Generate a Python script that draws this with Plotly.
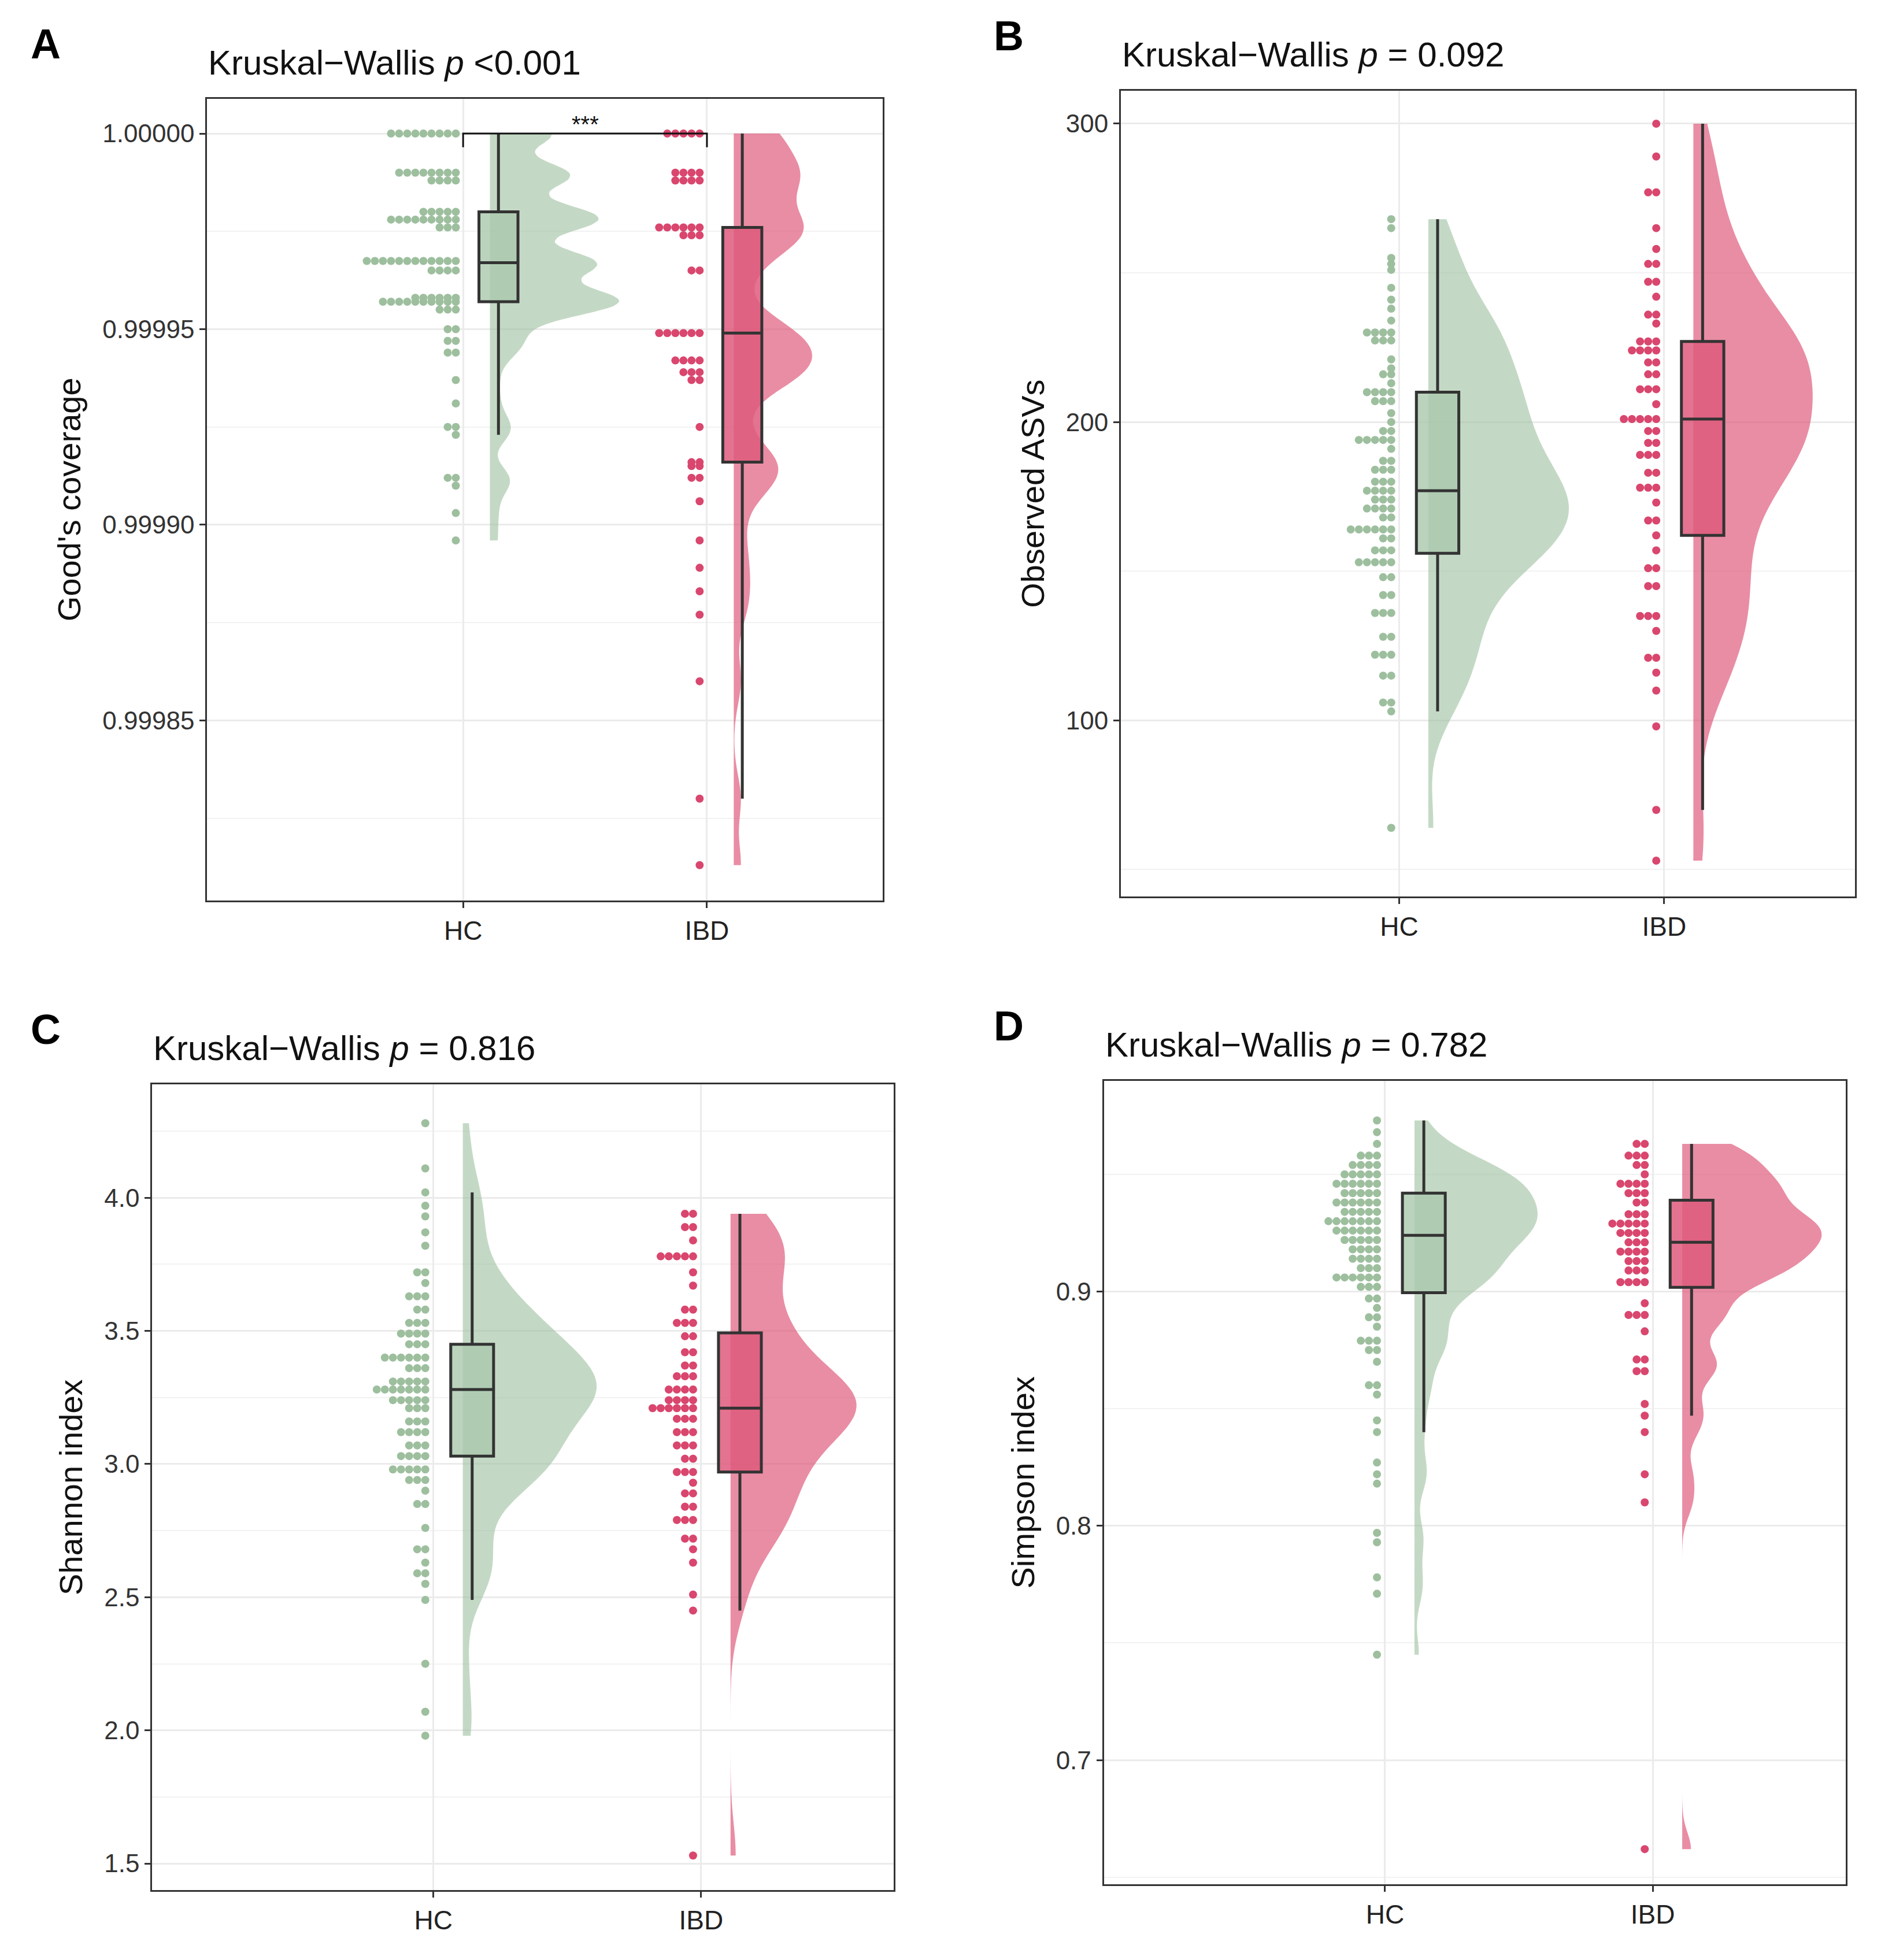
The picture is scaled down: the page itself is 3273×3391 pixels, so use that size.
import numpy as np
import plotly.graph_objects as go

def expand(pairs):
    out = []
    for v, c in pairs:
        out += [v] * c
    return out

# Panel A: Good's coverage (deficit in ppm -> value)
a_hc_def = [(0,9),(10,8),(12,4),(20,5),(22,9),(24,3),(32,5),(33,7),(35,4),(42,6),(43,10),(45,3),
            (50,2),(53,2),(56,2),(63,1),(69,1),(75,2),(77,1),(88,2),(90,1),(97,1),(104,1)]
a_ibd_def = [(0,5),(10,4),(12,4),(24,6),(26,3),(35,2),(51,6),(58,4),(61,3),(63,2),(75,1),(84,2),(85,2),
             (88,2),(94,1),(104,1),(111,1),(117,1),(123,1),(140,1),(170,1),(187,1)]
A_HC = [1 - d * 1e-6 for d in expand(a_hc_def)]
A_IBD = [1 - d * 1e-6 for d in expand(a_ibd_def)]

B_HC = expand([(268,1),(265,1),(255,1),(253,1),(251,1),(245,1),(241,1),(238,1),(234,1),(230,4),(228,2),(226,1),
               (221,1),(218,1),(216,2),(213,1),(210,4),(207,3),(203,1),(200,1),(197,2),(194,5),(191,1),(187,2),
               (184,3),(180,3),(177,4),(174,3),(171,4),(168,2),(164,6),(161,2),(157,3),(153,5),(148,2),(142,2),
               (136,3),(128,2),(122,3),(115,2),(106,2),(103,1),(64,1)])
B_IBD = expand([(300,1),(289,1),(277,2),(265,1),(258,1),(253,2),(247,2),(242,1),(236,2),(233,1),(227,3),(224,4),
                (220,2),(216,2),(211,3),(206,1),(201,5),(197,2),(193,2),(189,3),(183,2),(178,3),(173,1),(167,2),
                (162,1),(157,1),(151,2),(145,2),(135,3),(130,1),(121,2),(116,1),(110,1),(98,1),(70,1),(53,1)])

C_HC = expand([(4.28,1),(4.11,1),(4.02,1),(3.97,1),(3.93,1),(3.87,1),(3.82,1),(3.72,2),(3.68,1),(3.63,3),(3.58,2),
               (3.53,3),(3.49,4),(3.45,3),(3.40,6),(3.36,3),(3.31,5),(3.28,7),(3.24,5),(3.21,3),(3.16,3),(3.12,4),
               (3.07,3),(3.03,4),(2.98,5),(2.94,3),(2.90,1),(2.85,2),(2.76,1),(2.68,2),(2.63,1),(2.59,2),(2.55,1),
               (2.49,1),(2.25,1),(2.07,1),(1.98,1)])
C_IBD = expand([(3.94,2),(3.89,2),(3.84,1),(3.78,5),(3.72,1),(3.67,1),(3.58,2),(3.53,3),(3.48,2),(3.42,2),(3.37,2),
                (3.33,3),(3.28,4),(3.24,4),(3.21,6),(3.17,3),(3.12,3),(3.07,3),(3.02,2),(2.97,3),(2.93,1),(2.89,2),
                (2.84,2),(2.79,3),(2.72,2),(2.68,1),(2.63,1),(2.51,1),(2.45,1),(1.53,1)])

D_HC = expand([(0.973,1),(0.968,1),(0.963,1),(0.958,3),(0.954,4),(0.950,5),(0.946,6),(0.942,5),(0.938,6),(0.934,5),
               (0.930,7),(0.926,6),(0.922,5),(0.918,4),(0.914,4),(0.910,3),(0.906,6),(0.902,3),(0.897,2),(0.893,1),
               (0.889,2),(0.885,1),(0.879,3),(0.875,2),(0.870,1),(0.860,2),(0.856,1),(0.845,1),(0.840,1),(0.827,1),
               (0.822,1),(0.818,1),(0.797,1),(0.793,1),(0.778,1),(0.771,1),(0.745,1)])
D_IBD = expand([(0.963,2),(0.958,3),(0.954,2),(0.950,1),(0.946,4),(0.942,3),(0.938,2),(0.933,3),(0.929,5),(0.925,4),
                (0.921,3),(0.917,4),(0.913,3),(0.909,3),(0.904,4),(0.895,1),(0.890,3),(0.883,1),(0.871,2),(0.866,2),
                (0.852,1),(0.847,1),(0.840,1),(0.822,1),(0.810,1),(0.662,1)])

GROUPS = ["HC", "IBD"]
TITLES = ["Kruskal\u2212Wallis <i>p</i> <0.001", "Kruskal\u2212Wallis <i>p</i> = 0.092",
          "Kruskal\u2212Wallis <i>p</i> = 0.816", "Kruskal\u2212Wallis <i>p</i> = 0.782"]
YLABELS = ["Good's coverage", "Observed ASVs", "Shannon index", "Simpson index"]
LETTERS = ["A", "B", "C", "D"]

panels = [
    dict(d=(A_HC, A_IBD), yr=[0.999804, 1.0000089], tv=[0.99985, 0.9999, 0.99995, 1.0], fmt=".5f", minor=0.000025,
         bw=(0.0000035, 0.000006), vw=(1.06, 0.64), dom=([0.107, 0.464], [0.543, 0.952])),
    dict(d=(B_HC, B_IBD), yr=[41, 311], tv=[100, 200, 300], fmt="d", minor=50,
         bw=(12, 14), vw=(1.06, 0.9), dom=([0.590, 0.978], [0.545, 0.956])),
    dict(d=(C_HC, C_IBD), yr=[1.40, 4.425], tv=[1.5, 2.0, 2.5, 3.0, 3.5, 4.0], fmt=".1f", minor=0.25,
         bw=(0.11, 0.12), vw=(1.0, 0.94), dom=([0.078, 0.470], [0.038, 0.449])),
    dict(d=(D_HC, D_IBD), yr=[0.647, 0.990], tv=[0.7, 0.8, 0.9], fmt=".1f", minor=0.05,
         bw=(0.008, 0.007), vw=(0.92, 1.04), dom=([0.581, 0.973], [0.041, 0.451])),
]

PT = ["#9DBF9E", "#D9466E"]
VF = ["rgba(157,191,158,0.6)", "rgba(221,80,115,0.65)"]
BF = ["rgba(170,200,172,0.8)", "rgba(222,90,125,0.85)"]

fig = go.Figure()
layout = {}
W, H = 3273, 3391
for i, p in enumerate(panels):
    k = "" if i == 0 else str(i + 1)
    xa, ya = "x" + k, "y" + k
    span = p["yr"][1] - p["yr"][0]
    dh = (p["dom"][1][1] - p["dom"][1][0]) * H
    dw = (p["dom"][0][1] - p["dom"][0][0]) * W
    binw = 15 / dh * span
    dxw = 14 / dw * 2.77
    for g in range(2):
        vals = np.array(p["d"][g])
        base = g + 1
        bins = np.round(vals / binw)
        xs, ys = [], []
        for b in np.unique(bins):
            m = vals[bins == b]
            for j, v in enumerate(m):
                xs.append(base - 0.03 - j * dxw)
                ys.append(np.mean(m))
        fig.add_trace(go.Scatter(x=xs, y=ys, mode="markers", xaxis=xa, yaxis=ya, showlegend=False,
                                 marker=dict(size=14, color=PT[g], line=dict(width=0))))
        fig.add_trace(go.Violin(x=[base + 0.11] * len(vals), y=vals, xaxis=xa, yaxis=ya, side="positive",
                                width=p["vw"][g], bandwidth=p["bw"][g], spanmode="hard", points=False,
                                fillcolor=VF[g], line=dict(width=0), showlegend=False, hoverinfo="skip",
                                scalemode="width"))
        fig.add_trace(go.Box(x=[base + 0.145] * len(vals), y=vals, xaxis=xa, yaxis=ya, width=0.16,
                             boxpoints="outliers", marker=dict(opacity=0, size=1), whiskerwidth=0,
                             fillcolor=BF[g], line=dict(color="#333333", width=5),
                             showlegend=False))
    layout["xaxis" + k] = dict(domain=p["dom"][0], range=[-0.05, 2.72], anchor=ya, tickvals=[1, 2],
                               ticktext=GROUPS, showgrid=True, gridcolor="#EBEBEB", gridwidth=3,
                               zeroline=False, showline=True, mirror=True, linecolor="#333333", linewidth=3,
                               ticks="outside", ticklen=10, tickwidth=3, tickcolor="#333333",
                               tickfont=dict(size=46, color="#222"))
    layout["yaxis" + k] = dict(domain=p["dom"][1], range=p["yr"], anchor=xa, tickvals=p["tv"],
                               tickformat=p["fmt"], showgrid=True, gridcolor="#EBEBEB", gridwidth=3,
                               minor=dict(dtick=p["minor"], tick0=p["tv"][0] - p["minor"], showgrid=True,
                                          gridcolor="#F2F2F2", gridwidth=2),
                               zeroline=False, showline=True, mirror=True, linecolor="#333333", linewidth=3,
                               ticks="outside", ticklen=10, tickwidth=3, tickcolor="#333333",
                               tickfont=dict(size=44, color="#333"),
                               title=dict(text=YLABELS[i], font=dict(size=56, color="#111"), standoff=20))
    fig.add_annotation(text=TITLES[i], x=p["dom"][0][0], y=p["dom"][1][1] + 0.008, xref="paper", yref="paper",
                       xanchor="left", yanchor="bottom", showarrow=False, font=dict(size=60, color="#111"))
    lx = 0.013 if i in (0, 2) else 0.522
    ly = p["dom"][1][1] + 0.028
    fig.add_annotation(text="<b>%s</b>" % LETTERS[i], x=lx, y=ly, xref="paper", yref="paper",
                       xanchor="left", yanchor="middle", showarrow=False, font=dict(size=72, color="#000"))

# significance bracket in panel A
fig.add_trace(go.Scatter(x=[1, 1, 2, 2], y=[0.9999965, 1.0, 1.0, 0.9999965], mode="lines", xaxis="x", yaxis="y",
                         line=dict(color="#111", width=3), showlegend=False))
fig.add_annotation(text="***", x=1.5, y=1.0, xref="x", yref="y", yanchor="bottom", showarrow=False,
                   font=dict(size=40, color="#111"), yshift=-8)

fig.update_layout(width=W, height=H, margin=dict(l=0, r=0, t=0, b=0), plot_bgcolor="white",
                  paper_bgcolor="white", font=dict(family="Liberation Sans, Arial, sans-serif"),
                  violinmode="overlay", boxmode="overlay", **layout)
fig.write_html("out.html")
